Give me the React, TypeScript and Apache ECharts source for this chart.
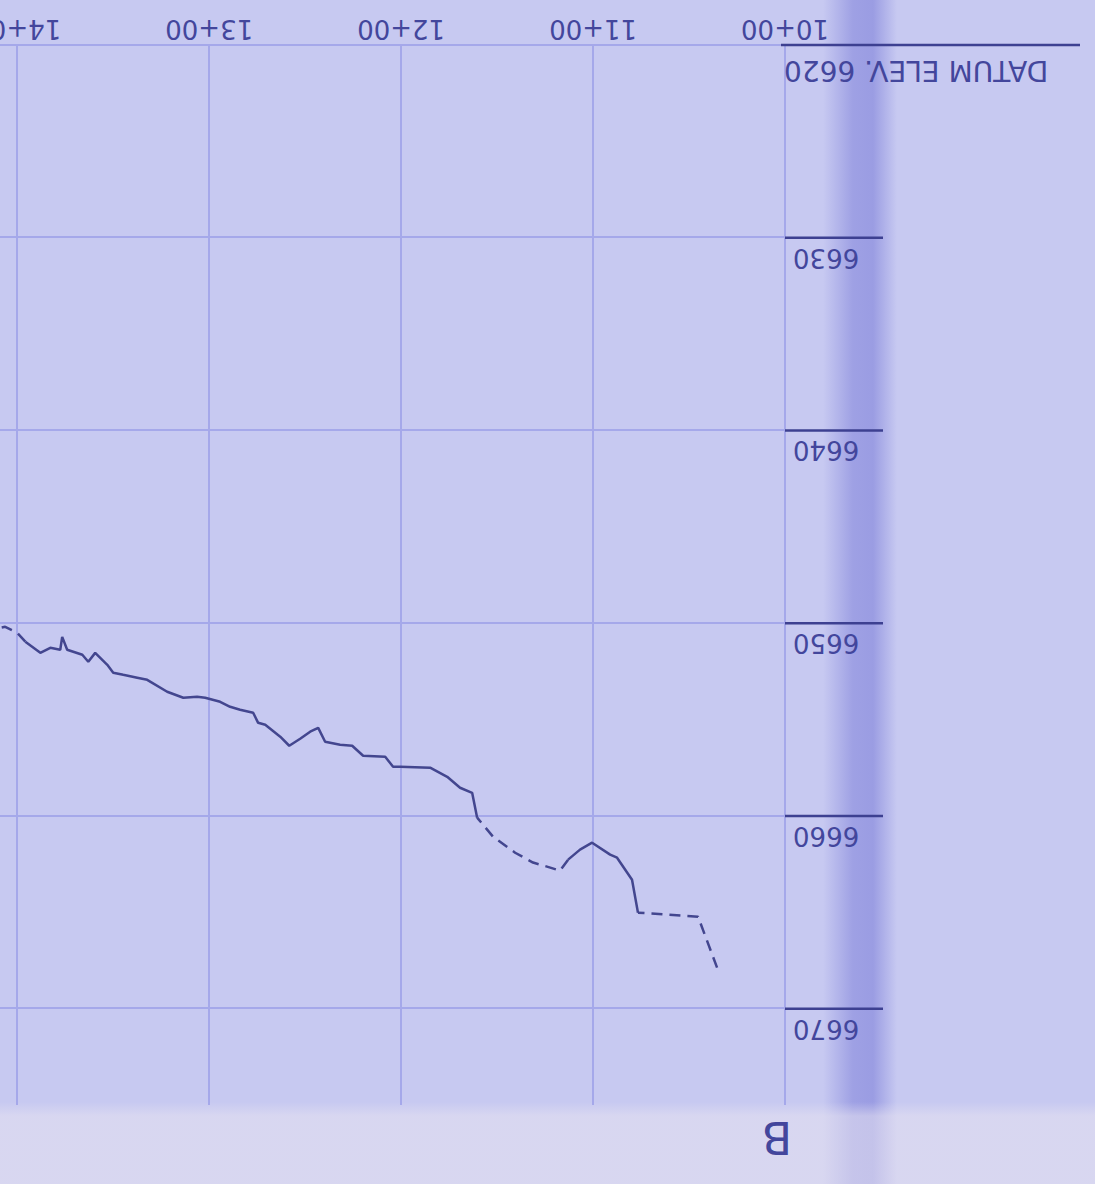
import React, { useEffect, useRef } from 'react';
import * as echarts from 'echarts';

// Profile read from the sheet (station in ft, elevation in ft)
const stations = [1035.4, 1045.3, 1076.6, 1079.7, 1087.5, 1091.1, 1100.5, 1106.8, 1113.0, 1117.2, 1124.0, 1131.3, 1140.6, 1152.1, 1160.4, 1163.0, 1169.3, 1176.0, 1184.9, 1200.5, 1204.2, 1208.3, 1219.8, 1225.5, 1231.8, 1239.6, 1243.2, 1247.4, 1252.6, 1258.3, 1263.0, 1270.8, 1274.5, 1277.1, 1283.9, 1289.1, 1294.3, 1302.1, 1306.3, 1313.5, 1321.9, 1332.3, 1337.5, 1344.8, 1350.0, 1353.1, 1359.4, 1363.0, 1366.1, 1374.0, 1376.6, 1377.6, 1382.8, 1388.0, 1395.8, 1400.0, 1406.3, 1408.9];
const elevations = [6667.87, 6665.23, 6665.02, 6663.31, 6662.17, 6662.01, 6661.39, 6661.75, 6662.27, 6662.84, 6662.63, 6662.42, 6661.91, 6661.08, 6660.09, 6658.80, 6658.54, 6657.97, 6657.50, 6657.45, 6657.45, 6656.93, 6656.88, 6656.36, 6656.31, 6656.15, 6655.43, 6655.63, 6656.00, 6656.36, 6655.89, 6655.27, 6655.17, 6654.65, 6654.49, 6654.34, 6654.08, 6653.87, 6653.82, 6653.87, 6653.56, 6652.94, 6652.83, 6652.68, 6652.57, 6652.16, 6651.54, 6652.00, 6651.64, 6651.38, 6650.71, 6651.38, 6651.28, 6651.54, 6650.96, 6650.50, 6650.19, 6650.24];
// runs of the profile: [first index, last index, dashed?]
const runs: [number, number, boolean][] = [[0, 2, true], [2, 8, false], [8, 14, true], [14, 54, false], [54, 57, true]];
const elevationTicks = [6620, 6630, 6640, 6650, 6660, 6670];
const stationTicks = [1000, 1100, 1200, 1300, 1400];
const datumElevation = 6620;
const datumLabel = 'DATUM ELEV. 6620';
const sheetLetter = 'B';

function stationLabel(v: number) {
  const h = Math.floor(v / 100);
  const r = Math.round(v - h * 100);
  return `${h}+${String(r).padStart(2, '0')}`;
}

export default function App() {
  const ref = useRef<HTMLDivElement>(null);
  useEffect(() => {
    const chart = echarts.init(ref.current!, null, { renderer: 'svg' });
    const ink = '#43469c';
    const gridColor = '#a5a8ea';
    const font = 'DejaVu Sans';
    const series = runs.map(([a, b, dashed]) => ({
      type: 'line',
      data: stations.slice(a, b + 1).map((s, i) => [s, elevations[a + i]]),
      showSymbol: false,
      symbol: 'none',
      silent: true,
      z: 5,
      lineStyle: { color: '#43468f', width: 2.5, type: dashed ? [11, 7] : 'solid' },
    }));
    chart.setOption({
      animation: false,
      backgroundColor: 'transparent',
      grid: { left: 310, right: 0, top: 79, bottom: 45, containLabel: false, outerBoundsMode: 'none' },
      xAxis: {
        type: 'value', min: 1000, max: 1409, interval: 100,
        axisLine: { show: false }, axisTick: { show: false },
        axisLabel: {
          showMaxLabel: false, margin: 3, fontSize: 26, fontFamily: font, color: ink,
          formatter: (v: number) => (stationTicks.includes(v) ? stationLabel(v) : ''),
        },
        splitLine: { show: true, showMaxLine: false, lineStyle: { color: gridColor, width: 2 } },
      },
      yAxis: {
        type: 'value', min: 6620, max: 6675, interval: 10,
        axisLine: { show: false }, axisTick: { show: false },
        axisLabel: {
          showMaxLabel: false, margin: -4, fontSize: 26, fontFamily: font, color: ink,
          align: 'right', verticalAlign: 'bottom',
          formatter: (v: number) => {
            if (v === datumElevation) return `{d|${datumLabel}}`;
            return elevationTicks.includes(v) ? `{n|${v}}` : '';
          },
          rich: {
            d: { fontSize: 28, fontFamily: font, color: ink, padding: [0, 3, 11, 0] },
            n: { fontSize: 26, fontFamily: font, color: ink, padding: [0, 12, 7, 0] },
          },
        },
        splitLine: { show: true, showMaxLine: false, lineStyle: { color: gridColor, width: 2 } },
      },
      series,
    });
    const x0 = chart.convertToPixel({ xAxisIndex: 0 }, 1000) as number;
    const tickLines = elevationTicks.map((e) => {
      const y = chart.convertToPixel({ yAxisIndex: 0 }, e) as number;
      const isDatum = e === datumElevation;
      return {
        type: 'line',
        silent: true,
        shape: { x1: isDatum ? 15 : x0 - 98, y1: y, x2: x0 + (isDatum ? 4 : 0), y2: y },
        style: { stroke: '#3d4091', lineWidth: 2.5 },
        z: 6,
      };
    });
    chart.setOption({
      graphic: [
        ...tickLines,
        { type: 'text', left: 303, top: 25, z: 6, style: { text: sheetLetter, fontSize: 44, fontFamily: font, fill: ink } },
      ],
    });
    return () => chart.dispose();
  }, []);
  return (
    <div
      ref={ref}
      style={{
        position: 'absolute', left: 0, top: 0, width: 1095, height: 1184,
        transform: 'rotate(180deg)',
        background:
          'linear-gradient(to bottom, rgba(230,226,240,0.55) 0px, rgba(230,226,240,0.55) 68px, rgba(230,226,240,0) 82px),' +
          'linear-gradient(to right, rgba(120,122,215,0) 198px, rgba(118,120,215,0.55) 222px, rgba(118,120,215,0.5) 242px, rgba(120,122,215,0) 272px),' +
          '#c7c9f1',
      }}
    />
  );
}
